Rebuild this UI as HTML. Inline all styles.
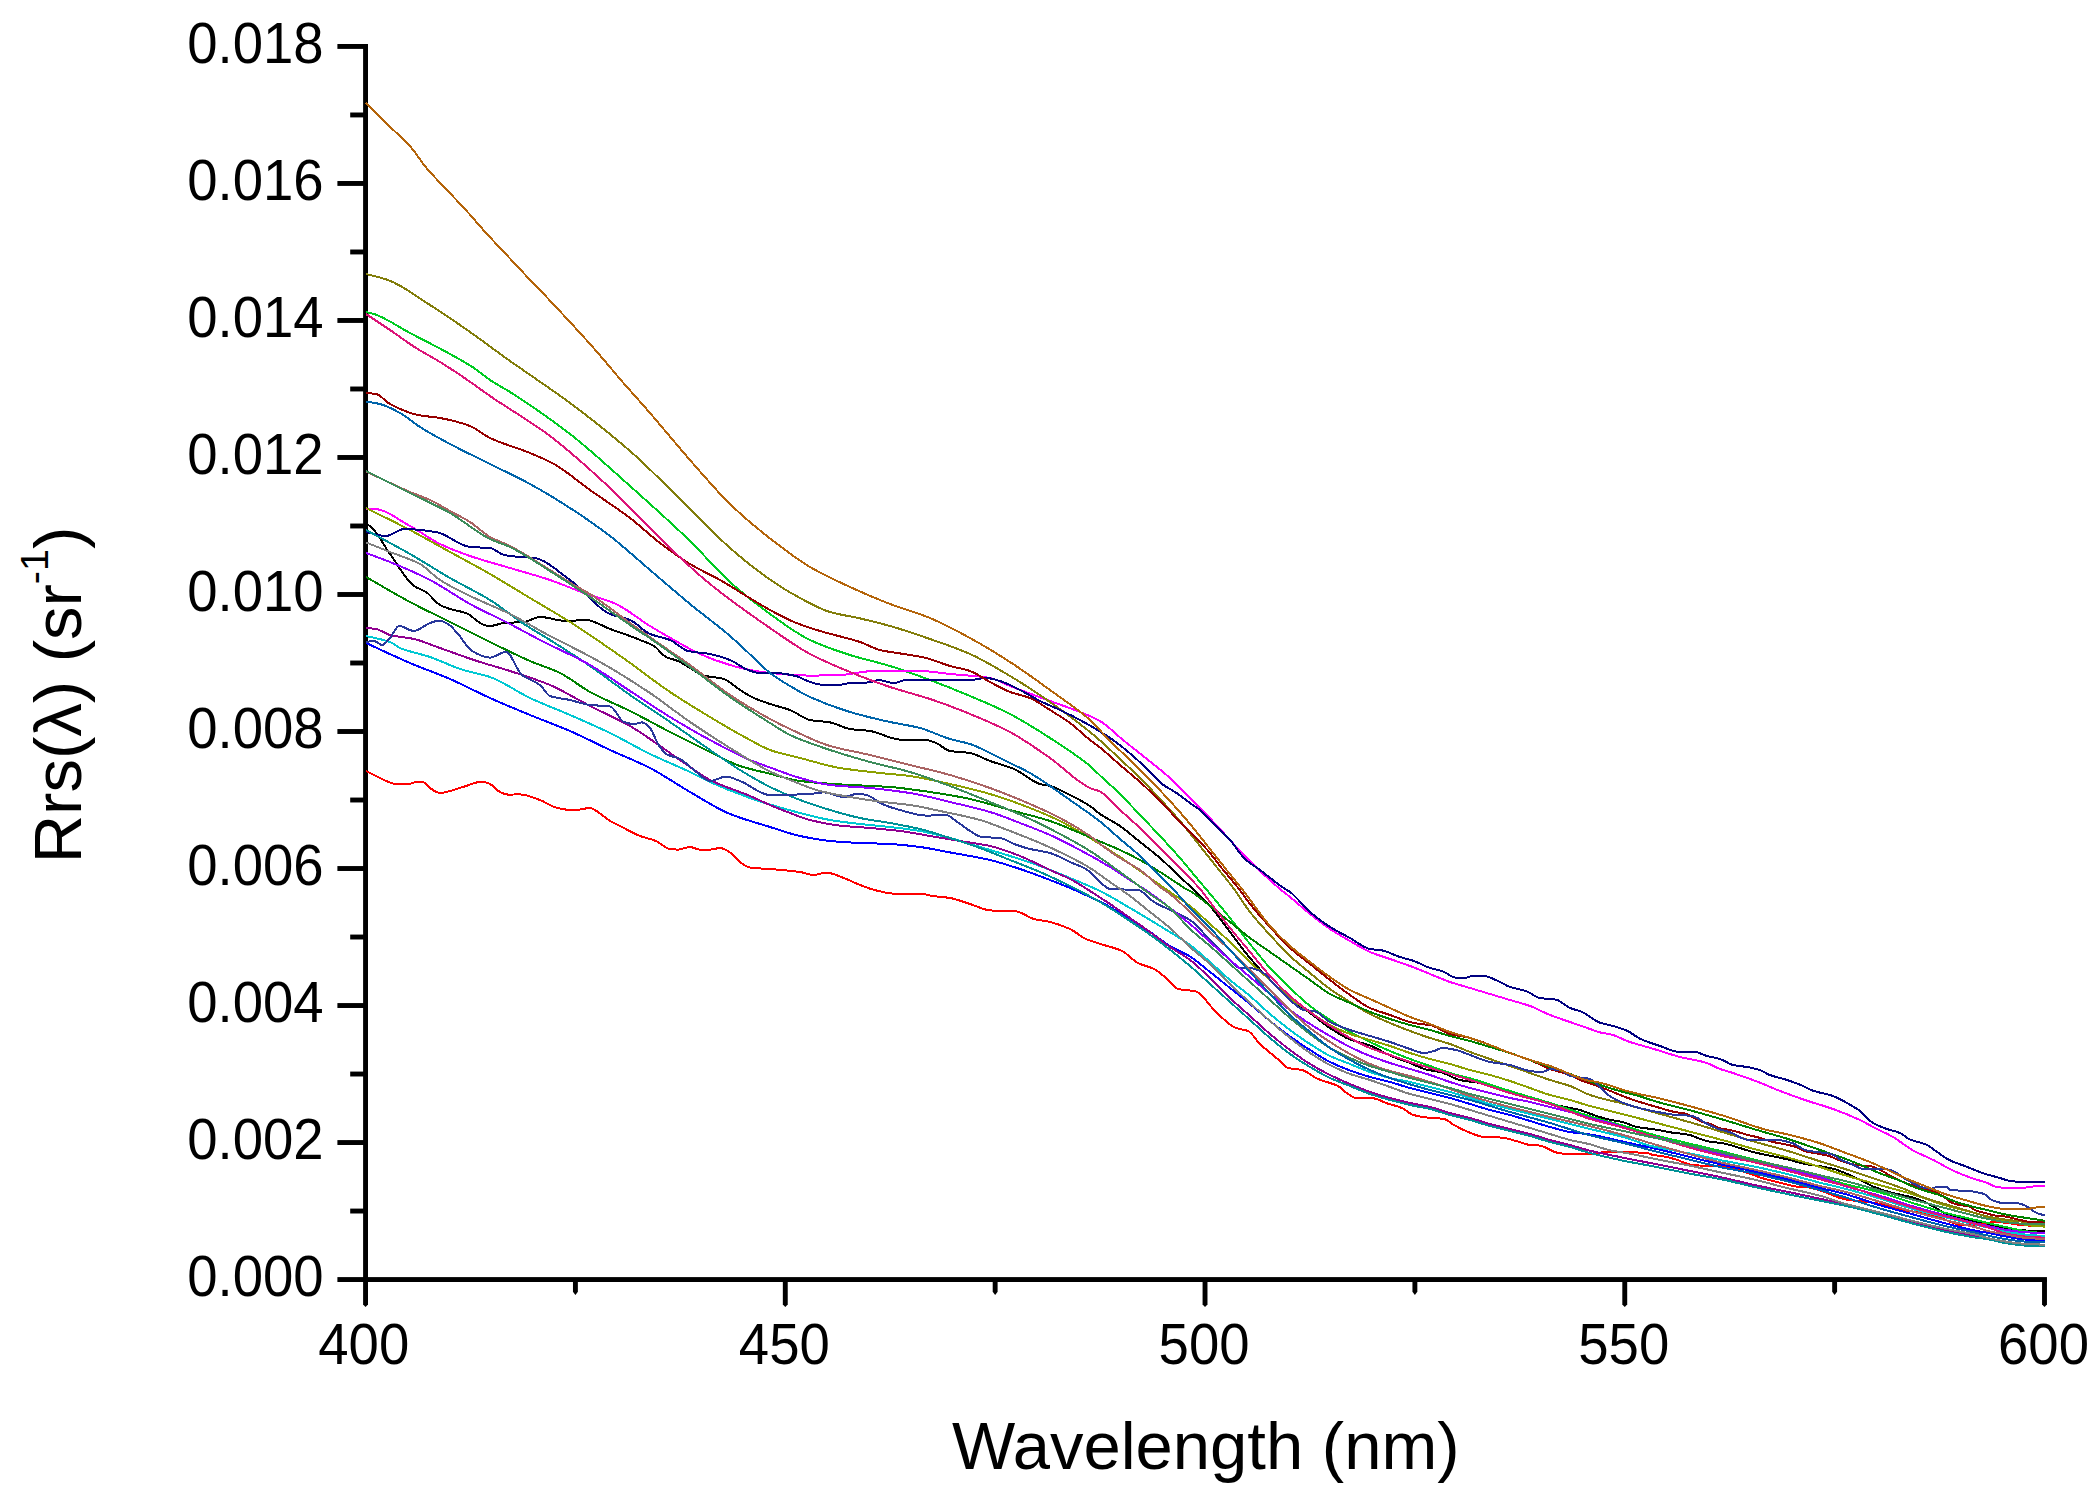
<!DOCTYPE html>
<html lang="en"><head><meta charset="utf-8"><title>Rrs spectra</title>
<style>
html,body{margin:0;padding:0;background:#fff;}
body{width:2100px;height:1500px;overflow:hidden;}
svg{display:block;}
text{font-family:"Liberation Sans",Arial,sans-serif;fill:#000;}
.tk{font-size:54.5px;}
.tt{font-size:67px;}
.ln{fill:none;stroke-width:2;stroke-linejoin:round;stroke-linecap:butt;}
</style></head>
<body>
<svg width="2100" height="1500" viewBox="0 0 2100 1500">
<rect x="0" y="0" width="2100" height="1500" fill="#ffffff"/>
<g fill="#000">
<rect x="363.1" y="44" width="4.9" height="1238"/>
<rect x="363.1" y="1277.1" width="1683.85" height="4.9"/>
<rect x="337.4" y="1277.1" width="28.15" height="4.9"/>
<rect x="350.2" y="1208.59" width="15.35" height="4.9"/>
<rect x="337.4" y="1140.09" width="28.15" height="4.9"/>
<rect x="350.2" y="1071.58" width="15.35" height="4.9"/>
<rect x="337.4" y="1003.08" width="28.15" height="4.9"/>
<rect x="350.2" y="934.572" width="15.35" height="4.9"/>
<rect x="337.4" y="866.067" width="28.15" height="4.9"/>
<rect x="350.2" y="797.561" width="15.35" height="4.9"/>
<rect x="337.4" y="729.056" width="28.15" height="4.9"/>
<rect x="350.2" y="660.55" width="15.35" height="4.9"/>
<rect x="337.4" y="592.044" width="28.15" height="4.9"/>
<rect x="350.2" y="523.539" width="15.35" height="4.9"/>
<rect x="337.4" y="455.033" width="28.15" height="4.9"/>
<rect x="350.2" y="386.528" width="15.35" height="4.9"/>
<rect x="337.4" y="318.022" width="28.15" height="4.9"/>
<rect x="350.2" y="249.517" width="15.35" height="4.9"/>
<rect x="337.4" y="181.011" width="28.15" height="4.9"/>
<rect x="350.2" y="112.506" width="15.35" height="4.9"/>
<rect x="337.4" y="44" width="28.15" height="4.9"/>
<path d="M363.1,1279.55 H368 V1304.6 L365.55,1307 L363.1,1304.6 Z"/>
<path d="M572.969,1279.55 H577.869 V1291.8 L575.419,1295 L572.969,1291.8 Z"/>
<path d="M782.837,1279.55 H787.738 V1304.6 L785.288,1307 L782.837,1304.6 Z"/>
<path d="M992.706,1279.55 H997.606 V1291.8 L995.156,1295 L992.706,1291.8 Z"/>
<path d="M1202.58,1279.55 H1207.48 V1304.6 L1205.03,1307 L1202.58,1304.6 Z"/>
<path d="M1412.44,1279.55 H1417.34 V1291.8 L1414.89,1295 L1412.44,1291.8 Z"/>
<path d="M1622.31,1279.55 H1627.21 V1304.6 L1624.76,1307 L1622.31,1304.6 Z"/>
<path d="M1832.18,1279.55 H1837.08 V1291.8 L1834.63,1295 L1832.18,1291.8 Z"/>
<path d="M2042.05,1279.55 H2046.95 V1304.6 L2044.5,1307 L2042.05,1304.6 Z"/>
</g>
<g class="ln" shape-rendering="crispEdges">
<path d="M366,524C367.3,524.7 368.7,525.1 370,526C376.7,530.4 383.3,544.9 390,554C398,564.9 406,580.5 414,586C418,588.8 422,589.4 426,592C430.7,595 435.3,602.4 440,605C443.3,606.8 446.7,608 450,609C455.3,610.7 460.7,611.1 466,613C472,615.2 478,623.5 484,625C486,625.5 488,626 490,626C494.7,626 499.3,623.4 504,623C510.7,622.4 517.3,622.6 524,622C529.3,621.5 534.7,617 540,617C548.7,617 557.3,621 566,621C572.7,621 579.3,620 586,620C594,620 602,626.1 610,629C616.7,631.4 623.3,633.5 630,636C633.3,637.3 636.7,638.6 640,640C644.7,641.9 649.3,643.2 654,646C658,648.4 662,655 666,657C670,659 674,659.3 678,661C682,662.7 686,665.7 690,668C694.7,670.6 699.3,674.4 704,675.6C710.7,677.4 717.3,677.1 724,679C729.3,680.5 734.7,686.7 740,690C744.7,692.9 749.3,695.9 754,698C759.3,700.4 764.7,702.2 770,704C776.7,706.2 783.3,707.5 790,710C796.7,712.5 803.3,718.7 810,720C816.7,721.3 823.3,721.2 830,722.4C836.7,723.6 843.3,728 850,729C856.7,730 863.3,730 870,731C880,732.4 890,739.3 900,739.6C908.7,739.8 917.3,739.7 926,740C929.3,740.1 932.7,741.7 936,743C940.7,744.8 945.3,750.2 950,751C956.7,752.2 963.3,751.9 970,753C976.7,754.1 983.3,758.6 990,761C998,763.9 1006,765.6 1014,769C1022.7,772.6 1031.3,781.6 1040,784C1043.3,784.9 1046.7,785.1 1050,786C1056.7,787.8 1063.3,791.7 1070,795C1076.7,798.3 1083.3,801.6 1090,806C1093.3,808.2 1096.7,811.7 1100,814C1106.7,818.6 1113.3,821.4 1120,826C1126.7,830.6 1133.3,836.7 1140,842C1146.7,847.3 1153.3,852.2 1160,858C1166.7,863.8 1173.3,870.8 1180,877C1184.3,881.1 1188.7,884.8 1193,889C1198.7,894.4 1204.3,899.6 1210,906C1216.7,913.5 1223.3,923.3 1230,932C1236.7,940.7 1243.3,950.1 1250,958C1256.7,965.9 1263.3,973.4 1270,980C1276.7,986.6 1283.3,992.5 1290,998C1296.7,1003.5 1303.3,1008 1310,1013C1316.7,1018 1323.3,1023.7 1330,1028C1336.7,1032.3 1343.3,1036.9 1350,1039.5C1356.7,1042.1 1363.3,1043 1370,1045.5C1376.7,1048 1383.3,1052.6 1390,1055.5C1396.7,1058.4 1403.3,1060.4 1410,1063C1415.3,1065.1 1420.7,1068.2 1426,1069.5C1430.7,1070.6 1435.3,1070.9 1440,1072C1446.7,1073.6 1453.3,1078.5 1460,1080C1466.7,1081.5 1473.3,1081.8 1480,1083C1486.7,1084.2 1493.3,1086.1 1500,1088C1506.7,1089.9 1513.3,1092.8 1520,1095C1526.7,1097.2 1533.3,1099.2 1540,1101C1546.7,1102.8 1553.3,1104.5 1560,1106C1566.7,1107.5 1573.3,1108.2 1580,1110C1583.3,1110.9 1586.7,1112.6 1590,1113.7C1595.6,1115.6 1601.1,1117.6 1606.7,1119C1612.2,1120.4 1617.8,1120.9 1623.3,1122.3C1627.8,1123.4 1632.2,1126.1 1636.7,1127C1643.4,1128.3 1650,1128.6 1656.7,1129.7C1661.1,1130.4 1665.6,1131.6 1670,1132.3C1676.7,1133.4 1683.3,1133.6 1690,1135C1693.3,1135.7 1696.7,1137.9 1700,1139C1703.3,1140.1 1706.7,1141.1 1710,1141.7C1714.4,1142.5 1718.9,1142.5 1723.3,1143.3C1725.5,1143.7 1727.8,1144.4 1730,1145C1737.7,1147.1 1745.3,1150 1753,1152C1764.3,1154.9 1775.7,1156.7 1787,1159.3C1793.7,1160.9 1800.3,1163.1 1807,1164.3C1812.3,1165.3 1817.7,1165.8 1823,1166.7C1826.3,1167.3 1829.7,1167.9 1833,1168.7C1837,1169.7 1841,1171.4 1845,1173C1850.6,1175.2 1856.1,1178 1861.7,1180.7C1866.1,1182.8 1870.6,1185.6 1875,1187.3C1880.6,1189.5 1886.1,1191.2 1891.7,1192.7C1898.4,1194.5 1905,1195.4 1911.7,1197.3C1915,1198.2 1918.4,1199.4 1921.7,1200.7C1926.1,1202.5 1930.6,1204.9 1935,1207.3C1938.3,1209.1 1941.7,1211.9 1945,1213.3C1949.4,1215.1 1953.9,1216 1958.3,1217.3C1960.5,1218 1962.8,1218.7 1965,1219.3C1972.3,1221.2 1979.7,1222.7 1987,1224.2C1993.7,1225.6 2000.3,1227.3 2007,1228.2C2014.7,1229.3 2022.3,1230.6 2030,1230.7C2034.9,1230.8 2039.8,1230.8 2044.7,1230.8" stroke="#000000"/>
<path d="M366,771C370.7,773.3 375.3,776 380,778C385.3,780.3 390.7,784 396,784C400,784 404,784 408,784C411.3,784 414.7,781.6 418,781.6C420,781.6 422,781.9 424,782.4C426,782.9 428,786.7 430,788C433.3,790.2 436.7,793 440,793C443.3,793 446.7,791.8 450,791C455.3,789.7 460.7,787.6 466,786C471.3,784.4 476.7,781.6 482,781.6C484.7,781.6 487.3,782.9 490,784C493.3,785.4 496.7,790.5 500,792C502.7,793.2 505.3,794.6 508,794.6C512,794.6 516,794.4 520,794.4C526.7,794.4 533.3,797.6 540,800C545.3,801.9 550.7,806.3 556,807.6C562,809 568,810.4 574,810.4C579.3,810.4 584.7,808 590,808C592.7,808 595.3,810.4 598,812C602,814.4 606,818.6 610,821C613.3,823 616.7,824.3 620,826C626.7,829.3 633.3,833.5 640,836C645.3,838 650.7,838.8 656,841C660.7,842.9 665.3,848.4 670,849C672.7,849.3 675.3,849.6 678,849.6C682,849.6 686,847 690,847C693.3,847 696.7,849.6 700,849.6C703.3,849.6 706.7,849.6 710,849.6C713.3,849.6 716.7,848 720,848C722.7,848 725.3,849.6 728,851C732,853.1 736,859.2 740,862C743.3,864.3 746.7,867.1 750,867.6C756.7,868.5 763.3,868.5 770,869C780,869.8 790,870.6 800,872C804.7,872.7 809.3,875 814,875C818,875 822,872.6 826,872.6C832,872.6 838,875.9 844,878C849.3,879.9 854.7,883 860,885C865.3,887 870.7,889.2 876,890.4C882,891.8 888,893.6 894,893.6C903.3,893.6 912.7,893.6 922,893.6C924.7,893.6 927.3,895.1 930,895.6C936.7,896.7 943.3,896.9 950,898C956.7,899.1 963.3,901.9 970,904C976.7,906.1 983.3,909.9 990,910.4C998.7,911 1007.3,910.8 1016,911.4C1022,911.8 1028,917.5 1034,919C1039.3,920.4 1044.7,920.7 1050,922C1056.7,923.6 1063.3,926 1070,929C1075.3,931.4 1080.7,936.7 1086,939C1091.3,941.3 1096.7,942.6 1102,944.4C1108.7,946.6 1115.3,947.9 1122,951C1127.3,953.5 1132.7,960.3 1138,963C1143.3,965.7 1148.7,966.3 1154,969C1158,971 1162,974.7 1166,978C1170,981.3 1174,988.1 1178,989C1182,989.9 1186,989.9 1190,990.5C1192,990.8 1194,991 1196,991.6C1202.7,993.4 1209.3,1006 1216,1012C1222.7,1018 1229.3,1025.6 1236,1028C1240,1029.5 1244,1029.4 1248,1031C1252,1032.6 1256,1040.2 1260,1044C1266.7,1050.4 1273.3,1055.2 1280,1061C1282.7,1063.3 1285.3,1067.3 1288,1068C1292.7,1069.2 1297.3,1069 1302,1070C1307.3,1071.2 1312.7,1076.7 1318,1079C1324.7,1081.9 1331.3,1082.6 1338,1086C1341.3,1087.7 1344.7,1092 1348,1094C1350.7,1095.6 1353.3,1097.9 1356,1098C1362,1098.3 1368,1098.1 1374,1098.4C1378,1098.6 1382,1101.6 1386,1103C1391.3,1104.8 1396.7,1105.7 1402,1108C1405.3,1109.4 1408.7,1113.2 1412,1114.4C1415.3,1115.6 1418.7,1116.5 1422,1117C1429.3,1118.1 1436.7,1117.7 1444,1119C1447.3,1119.6 1450.7,1123.2 1454,1125C1458,1127.2 1462,1129.4 1466,1131C1472,1133.4 1478,1136.6 1484,1137C1490,1137.4 1496,1137.2 1502,1137.6C1507.3,1137.9 1512.7,1140.2 1518,1141.6C1522,1142.7 1526,1144.6 1530,1145C1533.3,1145.3 1536.7,1145.3 1540,1145.6C1545.3,1146.1 1550.7,1151.3 1556,1152.4C1560.7,1153.4 1565.3,1154.4 1570,1154.4C1574,1154.4 1578,1154 1582,1154C1584.7,1154 1587.3,1154.3 1590,1154.3C1591.7,1154.3 1593.3,1153.9 1595,1153.7C1598.9,1153.2 1602.8,1151.7 1606.7,1151.7C1608.1,1151.7 1609.6,1152 1611,1152C1617.3,1152.2 1623.7,1152.2 1630,1152.3C1635.6,1152.4 1641.1,1152.5 1646.7,1153C1648.8,1153.2 1650.9,1154.6 1653,1155C1656.3,1155.6 1659.7,1155.7 1663,1156.3C1667.6,1157.1 1672.1,1158.2 1676.7,1159.7C1678.8,1160.4 1680.9,1161.6 1683,1162.3C1686.3,1163.4 1689.7,1164.7 1693,1165C1698.7,1165.6 1704.3,1165.8 1710,1166C1715,1166.1 1720,1166.1 1725,1166.3C1731.7,1166.5 1738.3,1169.9 1745,1172C1751.3,1174 1757.7,1176.9 1764,1178.7C1769.3,1180.3 1774.7,1181.5 1780,1182.7C1786.7,1184.2 1793.3,1186.6 1800,1187C1802.3,1187.2 1804.7,1187.1 1807,1187.3C1814,1187.8 1821,1191 1828,1193.3C1832,1194.6 1836,1196.8 1840,1198C1842.3,1198.7 1844.7,1199.3 1847,1199.7C1857,1201.4 1867,1201.6 1877,1203.3C1881.9,1204.2 1886.8,1205.9 1891.7,1207.3C1893.9,1207.9 1896.1,1208.8 1898.3,1209.3C1905,1210.7 1911.6,1211 1918.3,1212.3C1925.5,1213.7 1932.8,1216 1940,1218C1947.9,1220.2 1955.8,1225.3 1963.7,1225.3C1970.2,1225.3 1976.8,1224.9 1983.3,1224.3C1986.6,1224 1990,1222 1993.3,1222C1997.2,1222 2001.1,1222.4 2005,1222.7C2008.7,1223 2012.3,1223.8 2016,1224.3C2018.7,1224.7 2021.3,1225.1 2024,1225.3C2030.9,1225.7 2037.8,1225.8 2044.7,1226" stroke="#FF0000"/>
<path d="M366,312C368.7,312.7 371.3,313.2 374,314C386,317.8 398,326.7 410,333C423.3,340 436.7,346.6 450,354C458,358.4 466,362.7 474,368C479.3,371.5 484.7,376.4 490,380C496.7,384.5 503.3,387.7 510,392C530,404.8 550,418.5 570,434C590,449.5 610,468.2 630,486C650,503.8 670,521.6 690,541C703.3,554 716.7,570 730,582C743.3,594 756.7,604.4 770,614C783.3,623.6 796.7,633.7 810,640C823.3,646.3 836.7,650.8 850,655C863.3,659.2 876.7,661.9 890,666C903.3,670.1 916.7,675 930,680C943.3,685 956.7,690.4 970,696C983.3,701.6 996.7,707.1 1010,714C1023.3,720.9 1036.7,729.4 1050,738C1063.3,746.6 1076.7,754.9 1090,766C1093.3,768.8 1096.7,772.4 1100,775.5C1106.7,781.8 1113.3,787.4 1120,794C1126.7,800.6 1133.3,808 1140,815C1146.7,822 1153.3,828.8 1160,836C1166.7,843.2 1173.3,850.3 1180,858C1186.7,865.7 1193.3,874.1 1200,882C1202,884.4 1204,886.6 1206,889C1214,898.5 1222,908 1230,918C1236.7,926.4 1243.3,935.7 1250,944C1256.7,952.3 1263.3,960.7 1270,968C1276.7,975.3 1283.3,981.7 1290,988C1296.7,994.3 1303.3,1000.8 1310,1006C1316.7,1011.2 1323.3,1015.7 1330,1020C1336.7,1024.3 1343.3,1028.4 1350,1032C1356.7,1035.6 1363.3,1038.8 1370,1042C1376.7,1045.2 1383.3,1048.2 1390,1051C1396.7,1053.8 1403.3,1056.5 1410,1059C1416.7,1061.5 1423.3,1063.7 1430,1066C1436.7,1068.3 1443.3,1071 1450,1073C1458.7,1075.7 1467.3,1077.5 1476,1080C1487.3,1083.3 1498.7,1087.5 1510,1091C1523.3,1095.2 1536.7,1098.8 1550,1103C1563.3,1107.2 1576.7,1112.2 1590,1116.3C1601.1,1119.7 1612.2,1122.5 1623.3,1125.7C1634.4,1128.9 1645.6,1132.7 1656.7,1135.7C1667.8,1138.7 1678.9,1141 1690,1143.7C1701.1,1146.4 1712.2,1148.9 1723.3,1151.7C1733.2,1154.2 1743.1,1156.8 1753,1159.3C1764.3,1162.2 1775.7,1165.1 1787,1168C1798,1170.9 1809,1173.6 1820,1176.7C1828.3,1179 1836.7,1181.8 1845,1184C1856.1,1186.9 1867.2,1189 1878.3,1192C1889.4,1195.1 1900.6,1199.2 1911.7,1202.7C1922.8,1206.1 1933.9,1209.7 1945,1212.7C1956.1,1215.7 1967.2,1218 1978.3,1220.7C1981.1,1221.4 1983.9,1222 1986.7,1222.7C1993.4,1224.3 2000,1225.9 2006.7,1227.3C2013.4,1228.7 2020,1230.4 2026.7,1231.3C2032.7,1232.2 2038.7,1232.6 2044.7,1233.3" stroke="#00CC22"/>
<path d="M366,643C380.7,649.7 395.3,656.8 410,663C423.3,668.7 436.7,673.2 450,679C463.3,684.8 476.7,692 490,698C503.3,704 516.7,709.5 530,715C543.3,720.5 556.7,725.2 570,731C583.3,736.8 596.7,743.8 610,750C623.3,756.2 636.7,761.1 650,768C663.3,774.9 676.7,784.3 690,792C703.3,799.7 716.7,808.6 730,814C743.3,819.4 756.7,822.8 770,827C780,830.1 790,833.9 800,836C810,838.1 820,840 830,841C840,842 850,842.6 860,843C870,843.4 880,843.5 890,844C900,844.5 910,845.7 920,847C930,848.3 940,850.6 950,852.4C963.3,854.9 976.7,856.9 990,860C1000,862.4 1010,865.7 1020,869C1030,872.3 1040,876.2 1050,880C1056.7,882.6 1063.3,885.2 1070,888C1076.7,890.8 1083.3,893.8 1090,897C1096.7,900.2 1103.3,903.2 1110,907C1116.7,910.8 1123.3,915.8 1130,920C1136.7,924.2 1143.3,927.7 1150,932C1156.7,936.3 1163.3,942 1170,946C1176.7,950 1183.3,952.3 1190,956.5C1196.7,960.7 1203.3,966.8 1210,972C1216.7,977.2 1223.3,982.7 1230,988C1236.7,993.3 1243.3,998.5 1250,1004C1256.7,1009.5 1263.3,1015.6 1270,1021C1276.7,1026.4 1283.3,1031.7 1290,1036.5C1296.7,1041.3 1303.3,1045.8 1310,1050C1316.7,1054.2 1323.3,1058.7 1330,1062C1336.7,1065.3 1343.3,1068 1350,1070.5C1356.7,1073 1363.3,1075.1 1370,1077C1376.7,1078.9 1383.3,1080.2 1390,1082C1396.7,1083.8 1403.3,1086.2 1410,1088C1416.7,1089.8 1423.3,1091.3 1430,1093C1436.7,1094.7 1443.3,1096.2 1450,1098C1456.7,1099.8 1463.3,1102 1470,1104C1476.7,1106 1483.3,1108.2 1490,1110C1496.7,1111.8 1503.3,1113.2 1510,1115C1516.7,1116.8 1523.3,1119 1530,1121C1536.7,1123 1543.3,1125.2 1550,1127C1556.7,1128.8 1563.3,1130.9 1570,1132C1576.7,1133.1 1583.3,1133.5 1590,1134.5C1601.1,1136.2 1612.2,1139.3 1623.3,1141.7C1634.4,1144.1 1645.6,1146.5 1656.7,1149C1667.8,1151.5 1678.9,1154.3 1690,1157C1701.1,1159.7 1712.2,1162.5 1723.3,1165C1733.2,1167.2 1743.1,1169.1 1753,1171.3C1764.3,1173.8 1775.7,1176.5 1787,1179.3C1798,1182 1809,1185.2 1820,1188C1828.3,1190.1 1836.7,1191.7 1845,1194C1856.1,1197 1867.2,1201.4 1878.3,1204.7C1889.4,1208 1900.6,1210.9 1911.7,1214C1922.8,1217.1 1933.9,1220.4 1945,1223.3C1956.1,1226.2 1967.2,1229.2 1978.3,1231.3C1981.1,1231.8 1983.9,1232.2 1986.7,1232.7C1993.4,1233.9 2000,1235.6 2006.7,1236.7C2013.4,1237.8 2020,1239.2 2026.7,1239.7C2032.7,1240.2 2038.7,1240.4 2044.7,1240.7" stroke="#0000FF"/>
<path d="M366,636C374,638 382,639 390,642C393.3,643.2 396.7,646.6 400,648C410,652.2 420,653.6 430,657C440.7,660.6 451.3,666.2 462,669.6C471.3,672.5 480.7,673.8 490,677C503.3,681.6 516.7,691.7 530,698C543.3,704.3 556.7,709.2 570,715C583.3,720.8 596.7,726.5 610,733C623.3,739.5 636.7,747.5 650,754C663.3,760.5 676.7,765.6 690,772C696.7,775.2 703.3,779 710,782C723.3,788 736.7,793.3 750,798C756.7,800.4 763.3,802.5 770,804.5C780,807.5 790,810.4 800,813C810,815.6 820,818.3 830,820C840,821.7 850,822.9 860,824C870,825.1 880,825.9 890,827C900,828.1 910,829.3 920,831C930,832.7 940,835.4 950,838C960,840.6 970,844 980,847C990,850 1000,852.8 1010,856C1020,859.2 1030,862.4 1040,866C1050,869.6 1060,873.8 1070,878C1080,882.2 1090,886.1 1100,891C1110,895.9 1120,902.2 1130,908C1140,913.8 1150,919.8 1160,926C1170,932.2 1180,937.7 1190,945C1196.7,949.9 1203.3,956.2 1210,962C1216.7,967.8 1223.3,974.4 1230,980C1236.7,985.6 1243.3,990.4 1250,996C1256.7,1001.6 1263.3,1008.4 1270,1014C1276.7,1019.6 1283.3,1025 1290,1030C1296.7,1035 1303.3,1039.7 1310,1044C1316.7,1048.3 1323.3,1052.8 1330,1056C1336.7,1059.2 1343.3,1061.3 1350,1064C1356.7,1066.7 1363.3,1069.7 1370,1072C1376.7,1074.3 1383.3,1076.4 1390,1078C1396.7,1079.6 1403.3,1080.5 1410,1082C1416.7,1083.5 1423.3,1085.3 1430,1087C1436.7,1088.7 1443.3,1090.2 1450,1092C1456.7,1093.8 1463.3,1096 1470,1098C1476.7,1100 1483.3,1102.2 1490,1104C1496.7,1105.8 1503.3,1107.3 1510,1109C1516.7,1110.7 1523.3,1112.3 1530,1114C1536.7,1115.7 1543.3,1117.3 1550,1119C1556.7,1120.7 1563.3,1122.3 1570,1124C1576.7,1125.7 1583.3,1127.4 1590,1129C1601.1,1131.7 1612.2,1133.9 1623.3,1137C1632.2,1139.5 1641.1,1143.5 1650,1145.7C1658.9,1147.9 1667.8,1149.2 1676.7,1151C1685.6,1152.8 1694.4,1154.4 1703.3,1156.3C1710,1157.7 1716.6,1159.3 1723.3,1160.7C1733.2,1162.7 1743.1,1164.3 1753,1166.3C1764.3,1168.6 1775.7,1171.2 1787,1174C1798,1176.7 1809,1179.9 1820,1182.7C1828.3,1184.8 1836.7,1186.6 1845,1188.7C1856.1,1191.6 1867.2,1194.7 1878.3,1198C1889.4,1201.3 1900.6,1205.5 1911.7,1208.7C1922.8,1211.9 1933.9,1214.5 1945,1217.3C1956.1,1220.1 1967.2,1222.6 1978.3,1225.3C1981.1,1226 1983.9,1226.7 1986.7,1227.3C1993.4,1228.8 2000,1230.5 2006.7,1231.7C2013.4,1232.9 2020,1234.1 2026.7,1234.7C2032.7,1235.3 2038.7,1235.6 2044.7,1236" stroke="#00C8D2"/>
<path d="M366,509C368.7,509 371.3,509 374,509C386,509 398,519.6 410,526C420,531.3 430,539.2 440,544C450,548.8 460,552.5 470,556C483.3,560.6 496.7,564 510,568C523.3,572 536.7,575.5 550,580C561.3,583.8 572.7,588.9 584,593C594.7,596.9 605.3,599.2 616,604C627.3,609.1 638.7,619.1 650,626C658,630.9 666,635.5 674,640C682.7,644.9 691.3,650.2 700,654C710,658.4 720,662.1 730,665C736.7,667 743.3,668.8 750,670C756.7,671.2 763.3,672.4 770,673C783.3,674.3 796.7,675.6 810,675.6C820,675.6 830,675.3 840,675C851.3,674.6 862.7,671 874,671C889.3,671 904.7,671 920,671C930,671 940,673 950,674C963.3,675.3 976.7,675.7 990,678C996.7,679.1 1003.3,683.4 1010,686C1023.3,691.2 1036.7,696.1 1050,701C1060,704.7 1070,707.9 1080,712C1086.7,714.7 1093.3,717.1 1100,721C1107.7,725.4 1115.3,733.8 1123,740C1132,747.3 1141,754.2 1150,761.5C1156.7,766.9 1163.3,772 1170,778C1176.7,784 1183.3,791.3 1190,798C1195,803 1200,807.8 1205,813C1210,818.2 1215,823.6 1220,829C1226.7,836.2 1233.3,844 1240,851C1246.7,858 1253.3,864.7 1260,871C1266.7,877.3 1273.3,883.4 1280,889C1283.3,891.8 1286.7,894.3 1290,897C1296.7,902.5 1303.3,908.7 1310,914C1316.7,919.3 1323.3,924.6 1330,929C1336.7,933.4 1343.3,937.2 1350,941C1356.7,944.8 1363.3,949.1 1370,952C1376.7,954.9 1383.3,956.7 1390,959C1396.7,961.3 1403.3,963.5 1410,966C1416.7,968.5 1423.3,971.3 1430,974C1436.7,976.7 1443.3,979.7 1450,982C1456.7,984.3 1463.3,986 1470,988C1476.7,990 1483.3,992 1490,994C1496.7,996 1503.3,998 1510,1000C1516.7,1002 1523.3,1003.6 1530,1006C1536.7,1008.4 1543.3,1012.4 1550,1015C1556.7,1017.6 1563.3,1019.7 1570,1022C1576.7,1024.3 1583.3,1026.7 1590,1029C1593.3,1030.1 1596.7,1031.6 1600,1032.4C1604.3,1033.5 1608.7,1033.8 1613,1035C1617.7,1036.3 1622.3,1039.3 1627,1041C1635.7,1044.1 1644.3,1046.1 1653,1048.7C1662,1051.4 1671,1054.7 1680,1057C1689,1059.3 1698,1060.2 1707,1063C1711.3,1064.4 1715.7,1067.4 1720,1069C1724.3,1070.6 1728.7,1071.6 1733,1073C1742,1076 1751,1079.2 1760,1082.7C1766.7,1085.3 1773.3,1088.4 1780,1091C1789,1094.5 1798,1097.7 1807,1100.7C1815.7,1103.6 1824.3,1105.9 1833,1109C1842,1112.2 1851,1115.8 1860,1120C1864.3,1122 1868.7,1124.7 1873,1127C1879.7,1130.5 1886.3,1133.2 1893,1137C1899.4,1140.7 1905.9,1146.4 1912.3,1150C1919.3,1153.9 1926.3,1156.5 1933.3,1160C1940,1163.4 1946.6,1167.6 1953.3,1170.7C1960,1173.8 1966.6,1176.4 1973.3,1178.7C1977.8,1180.2 1982.2,1181.1 1986.7,1182.7C1990,1183.9 1993.4,1186.5 1996.7,1187C2000,1187.5 2003.4,1188 2006.7,1188C2012.2,1188 2017.8,1188 2023.3,1188C2025.5,1188 2027.8,1186.9 2030,1186.7C2034.9,1186.3 2039.8,1186.2 2044.7,1185.9" stroke="#FF00FF"/>
<path d="M366,508C380.7,515.3 395.3,522.3 410,530C423.3,537 436.7,544.7 450,552C463.3,559.3 476.7,566.3 490,574C503.3,581.7 516.7,590 530,598C543.3,606 556.7,613.5 570,622C588.7,633.8 607.3,646.9 626,660C640.7,670.3 655.3,682.2 670,692C683.3,701 696.7,709 710,717C723.3,725 736.7,732.9 750,740C756.7,743.5 763.3,747.6 770,750C780,753.6 790,755.4 800,758C813.3,761.4 826.7,765.8 840,768C853.3,770.2 866.7,771.5 880,773C890,774.1 900,774.7 910,776C923.3,777.8 936.7,781 950,784C963.3,787 976.7,790.1 990,794C1003.3,797.9 1016.7,802.8 1030,808C1040,811.9 1050,816.1 1060,821C1070,825.9 1080,832 1090,838C1100,844 1110,850.4 1120,857C1130,863.6 1140,871 1150,878C1156.7,882.7 1163.3,887.3 1170,892C1176.7,896.7 1183.3,900.8 1190,906C1196.7,911.2 1203.3,918 1210,924C1216.7,930 1223.3,935.7 1230,942C1236.7,948.3 1243.3,955.7 1250,962C1256.7,968.3 1263.3,974 1270,980C1276.7,986 1283.3,992.8 1290,998C1296.7,1003.2 1303.3,1007.5 1310,1012C1316.7,1016.5 1323.3,1021.5 1330,1025C1336.7,1028.5 1343.3,1031.6 1350,1034C1356.7,1036.4 1363.3,1038 1370,1040C1376.7,1042 1383.3,1043.8 1390,1046C1396.7,1048.2 1403.3,1050.8 1410,1053C1416.7,1055.2 1423.3,1057.2 1430,1059C1436.7,1060.8 1443.3,1062.2 1450,1064C1456.7,1065.8 1463.3,1068.2 1470,1070C1476.7,1071.8 1483.3,1073.2 1490,1075C1496.7,1076.8 1503.3,1078.8 1510,1081C1516.7,1083.2 1523.3,1085.7 1530,1088C1536.7,1090.3 1543.3,1093.1 1550,1095C1556.7,1096.9 1563.3,1098.2 1570,1100C1576.7,1101.8 1583.3,1104.2 1590,1106C1601.1,1109 1612.2,1111.5 1623.3,1114.3C1634.4,1117.1 1645.6,1120.1 1656.7,1123C1667.8,1125.9 1678.9,1128.8 1690,1131.7C1701.1,1134.6 1712.2,1137.3 1723.3,1140.3C1733.2,1143 1743.1,1146.1 1753,1148.7C1764.3,1151.7 1775.7,1154.2 1787,1157.3C1798,1160.3 1809,1163.6 1820,1167C1828.3,1169.6 1836.7,1172.7 1845,1175.3C1856.1,1178.7 1867.2,1181.6 1878.3,1184.7C1889.4,1187.8 1900.6,1190.6 1911.7,1194C1922.8,1197.4 1933.9,1202 1945,1205.3C1956.1,1208.6 1967.2,1210.7 1978.3,1214C1981.1,1214.8 1983.9,1216 1986.7,1216.7C1993.4,1218.4 2000,1219.3 2006.7,1220.7C2013.4,1222.1 2020,1224.1 2026.7,1225C2032.7,1225.8 2038.7,1226.1 2044.7,1226.7" stroke="#8CA000"/>
<path d="M366,274C373.3,276 380.7,277.4 388,280C402,285 416,296.1 430,305C443.3,313.4 456.7,322.7 470,332C483.3,341.3 496.7,351.6 510,361C518.7,367.1 527.3,372.9 536,379C547.3,386.9 558.7,394.5 570,403C590,417.9 610,433.5 630,451C650,468.5 670,489.6 690,509C703.3,521.9 716.7,536.4 730,548C743.3,559.6 756.7,570.4 770,579.6C780,586.5 790,592.7 800,598C810,603.3 820,609.1 830,612C840,614.9 850,616.1 860,618.4C870,620.7 880,623.2 890,626C903.3,629.8 916.7,634.4 930,639C943.3,643.6 956.7,648.1 970,654C983.3,659.9 996.7,668.1 1010,676C1023.3,683.9 1036.7,692.7 1050,702C1063.3,711.3 1076.7,721.2 1090,732C1093.3,734.7 1096.7,737.6 1100,740.5C1106.7,746.4 1113.3,752.8 1120,759C1126.7,765.2 1133.3,771.4 1140,778C1146.7,784.6 1153.3,791.8 1160,799C1166.7,806.2 1173.3,813.2 1180,821C1186.7,828.8 1193.3,837.6 1200,846C1205,852.3 1210,858.7 1215,865C1221.3,873 1227.7,880.5 1234,889C1239.3,896.2 1244.7,905.2 1250,912C1256.7,920.6 1263.3,927.7 1270,935C1276.7,942.3 1283.3,949.7 1290,956C1296.7,962.3 1303.3,967.5 1310,973C1316.7,978.5 1323.3,984.2 1330,989C1336.7,993.8 1343.3,997.8 1350,1002C1356.7,1006.2 1363.3,1010.6 1370,1014C1376.7,1017.4 1383.3,1020.2 1390,1023C1396.7,1025.8 1403.3,1028.5 1410,1031C1416.7,1033.5 1423.3,1035.8 1430,1038C1436.7,1040.2 1443.3,1041.7 1450,1044C1456.7,1046.3 1463.3,1049.5 1470,1052C1476.7,1054.5 1483.3,1056.7 1490,1059C1496.7,1061.3 1503.3,1063.7 1510,1066C1516.7,1068.3 1523.3,1070.7 1530,1073C1536.7,1075.3 1543.3,1077.8 1550,1080C1556.7,1082.2 1563.3,1083.6 1570,1086C1576.7,1088.4 1583.3,1092.7 1590,1095C1601.1,1098.8 1612.2,1100.7 1623.3,1103.7C1634.4,1106.7 1645.6,1109.9 1656.7,1113C1667.8,1116.1 1678.9,1119.1 1690,1122.3C1701.1,1125.5 1712.2,1129 1723.3,1132.3C1733.2,1135.3 1743.1,1138.4 1753,1141.3C1764.3,1144.6 1775.7,1147.3 1787,1150.7C1798,1154 1809,1157.8 1820,1161.3C1828.3,1163.9 1836.7,1166.3 1845,1169C1856.1,1172.5 1867.2,1176.2 1878.3,1180C1887.2,1183 1896.1,1185.8 1905,1189.3C1911.7,1191.9 1918.3,1195.6 1925,1198C1931.7,1200.4 1938.3,1202 1945,1204C1951.7,1206 1958.3,1208 1965,1210C1972.2,1212.1 1979.5,1214.8 1986.7,1216.3C1993.4,1217.7 2000,1218.8 2006.7,1219.7C2011.1,1220.3 2015.6,1220.7 2020,1221.3C2028.2,1222.4 2036.5,1223.8 2044.7,1225" stroke="#827D0A"/>
<path d="M366,532C372.7,533.3 379.3,536 386,536C392,536 398,529 404,529C414.7,529 425.3,530.4 436,532C447.3,533.7 458.7,546 470,547C476.7,547.6 483.3,547.4 490,548C494.7,548.4 499.3,554.1 504,555C509.3,556.1 514.7,556.5 520,557C524.7,557.4 529.3,557.5 534,558C546,559.4 558,571.5 570,580C583.3,589.5 596.7,608.4 610,614C616.7,616.8 623.3,617.2 630,620C636.7,622.8 643.3,631.2 650,634C656.7,636.8 663.3,637.3 670,640C676,642.4 682,649.6 688,651C695.3,652.7 702.7,652.6 710,654C716.7,655.3 723.3,657.4 730,660C736,662.3 742,668 748,670C752,671.3 756,673 760,673C763.3,673 766.7,672.5 770,672.5C778.7,672.5 787.3,674.1 796,676C800.7,677 805.3,680.7 810,682C814.7,683.3 819.3,685 824,685C828.7,685 833.3,685 838,685C842,685 846,683.2 850,683C856.7,682.6 863.3,682.8 870,682.4C872.7,682.2 875.3,680 878,680C883.3,680 888.7,683 894,683C898,683 902,680 906,680C914,680 922,680 930,680C943.3,680 956.7,680 970,680C975.3,680 980.7,678 986,678C990.7,678 995.3,679.7 1000,681C1006.7,682.9 1013.3,686.7 1020,690C1026.7,693.3 1033.3,697.7 1040,701C1046.7,704.3 1053.3,706.8 1060,710C1066.7,713.2 1073.3,716.4 1080,720C1091,726 1102,732.3 1113,740C1119.7,744.7 1126.3,750.2 1133,756C1138.7,760.9 1144.3,766.5 1150,772C1154,775.9 1158,780.9 1162,784C1166.3,787.3 1170.7,789.1 1175,792C1180,795.3 1185,799.4 1190,803C1193.3,805.4 1196.7,807.3 1200,810C1204.3,813.5 1208.7,818.7 1213,823C1218.7,828.7 1224.3,833.7 1230,840C1235,845.6 1240,854.4 1245,859C1250,863.6 1255,866.3 1260,870C1268.3,876.2 1276.7,883.6 1285,889C1286.7,890.1 1288.3,890.8 1290,892C1296.7,896.8 1303.3,906.3 1310,912C1316.7,917.7 1323.3,922.8 1330,927C1336.7,931.2 1343.3,934.3 1350,938C1356.7,941.7 1363.3,947.8 1370,949C1374,949.7 1378,949.7 1382,950.4C1388,951.4 1394,955.1 1400,957C1404.7,958.5 1409.3,959.4 1414,961C1419.3,962.8 1424.7,966.3 1430,968C1434,969.3 1438,969.7 1442,971C1446.7,972.5 1451.3,977.6 1456,977.6C1459.3,977.6 1462.7,977.6 1466,977.6C1468.7,977.6 1471.3,975.6 1474,975.6C1477.3,975.6 1480.7,975.8 1484,976C1488.7,976.3 1493.3,979 1498,981C1502,982.7 1506,985.6 1510,987C1515.3,988.8 1520.7,989.2 1526,991C1530.7,992.6 1535.3,997.2 1540,998C1545.3,998.9 1550.7,998.7 1556,999.6C1560.7,1000.4 1565.3,1006 1570,1008C1574,1009.7 1578,1010.3 1582,1012C1588,1014.5 1594,1020.6 1600,1022.7C1604.3,1024.2 1608.7,1024.7 1613,1026C1617.7,1027.3 1622.3,1028.7 1627,1030.7C1631.3,1032.6 1635.7,1036.7 1640,1038.7C1646.7,1041.8 1653.3,1043.8 1660,1046C1666.7,1048.2 1673.3,1052 1680,1052C1685,1052 1690,1052 1695,1052C1699,1052 1703,1054.9 1707,1056C1711.3,1057.2 1715.7,1057.7 1720,1059C1724.3,1060.3 1728.7,1064 1733,1065C1737.7,1066 1742.3,1066.2 1747,1067C1751.3,1067.8 1755.7,1068.6 1760,1070C1763,1071 1766,1073.5 1769,1074.7C1775,1077 1781,1078 1787,1080C1791.3,1081.4 1795.7,1082.9 1800,1084.7C1804.3,1086.5 1808.7,1089.2 1813,1090.7C1819.7,1093 1826.3,1093.6 1833,1096C1837.7,1097.6 1842.3,1100.4 1847,1103C1851.3,1105.4 1855.7,1107.8 1860,1111C1864.3,1114.2 1868.7,1120.5 1873,1123C1877.7,1125.7 1882.3,1127.3 1887,1129C1891.3,1130.5 1895.7,1131.1 1900,1133C1903,1134.3 1906,1137.6 1909,1139C1915,1141.8 1921,1142.2 1927,1145C1929.4,1146.1 1931.9,1148.4 1934.3,1150C1939.3,1153.4 1944.3,1157.5 1949.3,1160C1955.1,1162.9 1960.9,1164.4 1966.7,1166.7C1972.2,1168.9 1977.8,1171.5 1983.3,1173.3C1988.9,1175.1 1994.4,1176.4 2000,1178C2003.3,1179 2006.7,1180.6 2010,1181C2013.3,1181.4 2016.7,1181.7 2020,1181.7C2028.2,1181.7 2036.5,1181.7 2044.7,1181.7" stroke="#000080"/>
<path d="M366,628C369.3,628.3 372.7,628.5 376,629C380.7,629.7 385.3,633.8 390,635C398,637 406,637.2 414,639C422.7,640.9 431.3,645 440,648C451.3,652 462.7,656.3 474,660C479.3,661.8 484.7,663.4 490,665C496.7,667 503.3,668.9 510,671C523.3,675.3 536.7,679.4 550,685C563.3,690.6 576.7,699.2 590,706C603.3,712.8 616.7,718.4 630,726C636.7,729.8 643.3,734.5 650,739C663.3,748 676.7,758 690,767C696.7,771.5 703.3,776.6 710,780C723.3,786.8 736.7,790.3 750,796C756.7,798.8 763.3,802.2 770,805C776.7,807.8 783.3,810.5 790,813C796.7,815.5 803.3,818.3 810,820C820,822.5 830,824.5 840,825.6C850,826.7 860,827.1 870,828C880,828.9 890,829.8 900,831C910,832.2 920,834.3 930,836C940,837.7 950,839.3 960,841C970,842.7 980,843.8 990,846C1000,848.2 1010,852.1 1020,856C1030,859.9 1040,865.4 1050,870C1056.7,873.1 1063.3,875.6 1070,879C1076.7,882.4 1083.3,886.8 1090,891C1096.7,895.2 1103.3,899.5 1110,904C1116.7,908.5 1123.3,913.3 1130,918C1136.7,922.7 1143.3,927.2 1150,932C1156.7,936.8 1163.3,942.4 1170,947C1176.7,951.6 1183.3,955 1190,960C1196.7,965 1203.3,971.7 1210,978C1216.7,984.3 1223.3,991.7 1230,998C1236.7,1004.3 1243.3,1010 1250,1016C1256.7,1022 1263.3,1028.4 1270,1034C1276.7,1039.6 1283.3,1045 1290,1050C1296.7,1055 1303.3,1059.9 1310,1064C1316.7,1068.1 1323.3,1071.7 1330,1075C1336.7,1078.3 1343.3,1081.2 1350,1084C1356.7,1086.8 1363.3,1089.7 1370,1092C1376.7,1094.3 1383.3,1096.2 1390,1098C1396.7,1099.8 1403.3,1101.5 1410,1103C1416.7,1104.5 1423.3,1105.4 1430,1107C1436.7,1108.6 1443.3,1111.2 1450,1113C1456.7,1114.8 1463.3,1116.2 1470,1118C1476.7,1119.8 1483.3,1122.2 1490,1124C1496.7,1125.8 1503.3,1127.3 1510,1129C1516.7,1130.7 1523.3,1132.2 1530,1134C1536.7,1135.8 1543.3,1138.2 1550,1140C1556.7,1141.8 1563.3,1143.2 1570,1145C1576.7,1146.8 1583.3,1149.1 1590,1150.7C1601.1,1153.4 1612.2,1155.4 1623.3,1157.7C1634.4,1160 1645.6,1162.1 1656.7,1164.3C1667.8,1166.5 1678.9,1168.8 1690,1171C1701.1,1173.2 1712.2,1175.3 1723.3,1177.7C1733.2,1179.9 1743.1,1182.5 1753,1184.7C1764.3,1187.2 1775.7,1189.3 1787,1191.7C1798,1194 1809,1196.3 1820,1198.7C1828.3,1200.6 1836.7,1202.5 1845,1204.5C1856.1,1207.2 1867.2,1210.1 1878.3,1213C1889.4,1215.9 1900.6,1219.1 1911.7,1222C1922.8,1224.9 1933.9,1227.8 1945,1230.2C1956.1,1232.6 1967.2,1234.6 1978.3,1236.7C1981.1,1237.2 1983.9,1237.7 1986.7,1238.3C1993.4,1239.6 2000,1241.5 2006.7,1242.5C2013.4,1243.5 2020,1244.5 2026.7,1244.8C2032.7,1245.1 2038.7,1245.2 2044.7,1245.4" stroke="#900090"/>
<path d="M366,393C369.3,393.3 372.7,393.4 376,394C380.7,394.8 385.3,401.6 390,404C399.3,408.9 408.7,413.1 418,415C425.3,416.5 432.7,416.7 440,418C450,419.8 460,422.2 470,426C476.7,428.5 483.3,434.8 490,438C503.3,444.3 516.7,447.5 530,453C538,456.3 546,459.6 554,464C566,470.6 578,481.5 590,490C603.3,499.5 616.7,507.8 630,518C640,525.6 650,535.4 660,543C670,550.6 680,557.9 690,564C700,570.1 710,574.4 720,580C736.7,589.4 753.3,601 770,610C778,614.3 786,618.7 794,622C802.7,625.6 811.3,628.3 820,631C833.3,635.1 846.7,637.6 860,642C866.7,644.2 873.3,648.4 880,650C890,652.4 900,653.2 910,655C915.3,655.9 920.7,656.7 926,658C934,659.9 942,663.7 950,666C956.7,667.9 963.3,668.7 970,671C976.7,673.3 983.3,678.5 990,682C996.7,685.5 1003.3,689.5 1010,692C1016.7,694.5 1023.3,695.3 1030,698C1036.7,700.7 1043.3,705.8 1050,710C1056.7,714.2 1063.3,718.1 1070,723C1076.7,727.9 1083.3,734.7 1090,740C1093.3,742.6 1096.7,744.8 1100,747.5C1106.7,752.8 1113.3,759.3 1120,765C1126.7,770.7 1133.3,776 1140,782C1146.7,788 1153.3,794.4 1160,801C1166.7,807.6 1173.3,815.2 1180,822C1183.3,825.4 1186.7,828.7 1190,832C1193.3,835.3 1196.7,838.5 1200,842C1203.3,845.5 1206.7,849 1210,853C1213.3,857 1216.7,861.8 1220,866C1223.3,870.2 1226.7,874 1230,878C1233,881.6 1236,885.1 1239,889C1242.7,893.7 1246.3,899.4 1250,904C1256.7,912.4 1263.3,919.7 1270,927C1276.7,934.3 1283.3,941.9 1290,948C1296.7,954.1 1303.3,958.7 1310,964C1316.7,969.3 1323.3,974.8 1330,980C1336.7,985.2 1343.3,990.4 1350,995C1356.7,999.6 1363.3,1005 1370,1008C1376.7,1011 1383.3,1012.7 1390,1015C1396.7,1017.3 1403.3,1020.4 1410,1022C1413.3,1022.8 1416.7,1023.6 1420,1024C1423.3,1024.4 1426.7,1024.5 1430,1025C1436.7,1026 1443.3,1032.2 1450,1034C1456.7,1035.8 1463.3,1036.3 1470,1038C1476.7,1039.7 1483.3,1042.5 1490,1045C1496.7,1047.5 1503.3,1050.5 1510,1053C1516.7,1055.5 1523.3,1057.4 1530,1060C1536.7,1062.6 1543.3,1066.6 1550,1069C1556.7,1071.4 1563.3,1072.4 1570,1075C1573.3,1076.3 1576.7,1078.6 1580,1080C1586.7,1082.8 1593.3,1084.5 1600,1087C1604.3,1088.6 1608.7,1090.2 1613,1092C1615.3,1093 1617.7,1094.1 1620,1095C1625.6,1097.2 1631.1,1099.2 1636.7,1101C1643.4,1103.2 1650,1105.1 1656.7,1107C1662.2,1108.6 1667.8,1110.5 1673.3,1111.7C1677.8,1112.6 1682.2,1112.8 1686.7,1114C1688.9,1114.6 1691.1,1116.6 1693.3,1117.7C1696.2,1119.2 1699.1,1120.8 1702,1121.7C1704.7,1122.6 1707.3,1122.8 1710,1123.7C1713.3,1124.8 1716.7,1127.5 1720,1128.3C1723.3,1129.1 1726.7,1129.3 1730,1130C1735.7,1131.2 1741.3,1133.2 1747,1134.7C1752.3,1136.1 1757.7,1137.1 1763,1138.7C1765.3,1139.4 1767.7,1140.7 1770,1141.3C1775.7,1142.8 1781.3,1143.4 1787,1144.7C1790.3,1145.5 1793.7,1146.1 1797,1147.3C1799.7,1148.2 1802.3,1150.6 1805,1151.3C1810,1152.7 1815,1153 1820,1154C1823.3,1154.7 1826.7,1155.3 1830,1156.3C1832.3,1157 1834.7,1158.4 1837,1159.3C1839.7,1160.4 1842.3,1161.5 1845,1162.3C1849.4,1163.6 1853.9,1164.9 1858.3,1165.3C1862.1,1165.7 1865.9,1165.6 1869.7,1166C1873.7,1166.4 1877.7,1168.8 1881.7,1170.7C1885,1172.3 1888.4,1175 1891.7,1176.7C1896.1,1179 1900.6,1181 1905,1182.7C1909.4,1184.4 1913.9,1186 1918.3,1187.3C1922.8,1188.6 1927.2,1189.2 1931.7,1190.7C1935,1191.8 1938.4,1193.4 1941.7,1195.3C1945,1197.2 1948.4,1201.3 1951.7,1202.7C1953.9,1203.6 1956.1,1204.2 1958.3,1204.7C1962.8,1205.8 1967.2,1205.4 1971.7,1207.3C1972.2,1207.5 1972.8,1209 1973.3,1209.3C1977.8,1211.9 1982.2,1212 1986.7,1213.3C1988.9,1214 1991.1,1214.9 1993.3,1215.3C1997.8,1216 2002.2,1216 2006.7,1216.7C2008.9,1217 2011.1,1217.8 2013.3,1218.3C2016.6,1219.1 2020,1220 2023.3,1220.7C2026.2,1221.3 2029.1,1222.2 2032,1222.3C2036.2,1222.4 2040.5,1222.4 2044.7,1222.5" stroke="#960000"/>
<path d="M366,577C380.7,585.3 395.3,594.2 410,602C423.3,609.1 436.7,615.3 450,622C462,628 474,634.1 486,640C500.7,647.2 515.3,654.7 530,661C540,665.3 550,668.1 560,673C570,677.9 580,686.5 590,692C603.3,699.3 616.7,704.4 630,711C643.3,717.6 656.7,725.2 670,732C683.3,738.8 696.7,745.6 710,752C720,756.8 730,762.7 740,766C750,769.3 760,771.3 770,773.8C780,776.3 790,779.7 800,781C813.3,782.7 826.7,783.5 840,784.4C856.7,785.5 873.3,785.8 890,787C903.3,788 916.7,790.1 930,792C943.3,793.9 956.7,796.1 970,799C983.3,801.9 996.7,806.3 1010,810C1023.3,813.7 1036.7,816.6 1050,821C1060,824.3 1070,828.9 1080,833C1086.7,835.8 1093.3,838.7 1100,841.5C1106.7,844.3 1113.3,846.9 1120,850C1126.7,853.1 1133.3,856.4 1140,860C1146.7,863.6 1153.3,867.8 1160,872C1166.7,876.2 1173.3,880.6 1180,885C1182,886.3 1184,887.9 1186,889C1187.3,889.8 1188.7,890.2 1190,891C1196.7,894.8 1203.3,900.8 1210,906C1216.7,911.2 1223.3,916.7 1230,922C1236.7,927.3 1243.3,933 1250,938C1256.7,943 1263.3,947.3 1270,952C1276.7,956.7 1283.3,961.3 1290,966C1296.7,970.7 1303.3,975.3 1310,980C1316.7,984.7 1323.3,990.3 1330,994C1336.7,997.7 1343.3,1000 1350,1003C1356.7,1006 1363.3,1009.4 1370,1012C1376.7,1014.6 1383.3,1016.8 1390,1019C1396.7,1021.2 1403.3,1023.2 1410,1025C1416.7,1026.8 1423.3,1028.2 1430,1030C1436.7,1031.8 1443.3,1034.2 1450,1036C1456.7,1037.8 1463.3,1039.2 1470,1041C1476.7,1042.8 1483.3,1045 1490,1047C1496.7,1049 1503.3,1050.8 1510,1053C1516.7,1055.2 1523.3,1057.7 1530,1060C1536.7,1062.3 1543.3,1064.7 1550,1067C1556.7,1069.3 1563.3,1071.6 1570,1074C1575.3,1075.9 1580.7,1078 1586,1080C1590.7,1081.7 1595.3,1083.5 1600,1085C1609,1087.9 1618,1090.7 1627,1093C1629.8,1093.7 1632.5,1094.3 1635.3,1095C1642.4,1096.9 1649.6,1099.7 1656.7,1101.7C1667.8,1104.9 1678.9,1107.3 1690,1110.3C1701.1,1113.3 1712.2,1116.4 1723.3,1119.7C1734.5,1123 1745.8,1126.7 1757,1130C1767,1133 1777,1135.6 1787,1138.7C1798,1142.1 1809,1146.2 1820,1150C1828.3,1152.9 1836.7,1155.6 1845,1158.7C1851.7,1161.2 1858.3,1163.9 1865,1166.7C1869.4,1168.6 1873.9,1170.9 1878.3,1172.7C1885,1175.4 1891.6,1177.4 1898.3,1180C1905,1182.6 1911.6,1186.3 1918.3,1188.7C1925,1191.1 1931.6,1192.4 1938.3,1194.7C1945,1197 1951.6,1200.6 1958.3,1202.7C1965,1204.8 1971.6,1206.3 1978.3,1208C1981.1,1208.7 1983.9,1209.3 1986.7,1210C1993.4,1211.6 2000,1213.4 2006.7,1214.7C2013.4,1216 2020,1217 2026.7,1218C2031.1,1218.7 2035.6,1219.3 2040,1220C2041.6,1220.2 2043.1,1220.5 2044.7,1220.7" stroke="#008200"/>
<path d="M366,530C380.7,538 395.3,545.6 410,554C423.3,561.6 436.7,570.3 450,578C463.3,585.7 476.7,591.7 490,600C501.3,607 512.7,616.6 524,624C532.7,629.7 541.3,634.5 550,640C563.3,648.4 576.7,656.9 590,666C603.3,675.1 616.7,685.7 630,695C643.3,704.3 656.7,712.8 670,722C683.3,731.2 696.7,740.9 710,750C720,756.8 730,763.9 740,770C750,776.1 760,782.1 770,787C780,791.9 790,796.2 800,800C810,803.8 820,807 830,810C840,813 850,815.9 860,818C870,820.1 880,821.2 890,823C900,824.8 910,826.6 920,829C930,831.4 940,834.8 950,838C960,841.2 970,844.4 980,848C990,851.6 1000,856 1010,860C1020,864 1030,867.7 1040,872C1050,876.3 1060,881 1070,886C1080,891 1090,896.2 1100,902C1110,907.8 1120,914.4 1130,921C1140,927.6 1150,934.5 1160,942C1170,949.5 1180,957.5 1190,966C1196.7,971.7 1203.3,978 1210,984C1216.7,990 1223.3,996 1230,1002C1236.7,1008 1243.3,1014 1250,1020C1256.7,1026 1263.3,1032.4 1270,1038C1276.7,1043.6 1283.3,1049.2 1290,1054C1296.7,1058.8 1303.3,1063 1310,1067C1316.7,1071 1323.3,1074.9 1330,1078C1336.7,1081.1 1343.3,1083.3 1350,1086C1356.7,1088.7 1363.3,1091.7 1370,1094C1376.7,1096.3 1383.3,1098.2 1390,1100C1396.7,1101.8 1403.3,1103.5 1410,1105C1416.7,1106.5 1423.3,1107.4 1430,1109C1436.7,1110.6 1443.3,1113.2 1450,1115C1456.7,1116.8 1463.3,1118.2 1470,1120C1476.7,1121.8 1483.3,1124.2 1490,1126C1496.7,1127.8 1503.3,1129.3 1510,1131C1516.7,1132.7 1523.3,1134.2 1530,1136C1536.7,1137.8 1543.3,1140.2 1550,1142C1556.7,1143.8 1563.3,1145.2 1570,1147C1576.7,1148.8 1583.3,1151.2 1590,1153C1601.1,1155.9 1612.2,1158.4 1623.3,1160.7C1634.4,1163 1645.6,1164.8 1656.7,1167C1667.8,1169.2 1678.9,1171.6 1690,1173.7C1701.1,1175.8 1712.2,1177.4 1723.3,1179.7C1733.2,1181.7 1743.1,1184.5 1753,1186.7C1764.3,1189.2 1775.7,1191.6 1787,1194C1798,1196.3 1809,1198.5 1820,1200.7C1828.3,1202.4 1836.7,1203.9 1845,1205.7C1856.1,1208.2 1867.2,1211.1 1878.3,1214C1889.4,1216.9 1900.6,1220.4 1911.7,1223.3C1922.8,1226.2 1933.9,1229.3 1945,1231.7C1956.1,1234.1 1967.2,1236.4 1978.3,1238C1981.1,1238.4 1983.9,1238.6 1986.7,1239C1993.4,1240 2000,1242.3 2006.7,1243.3C2013.4,1244.3 2020,1245.4 2026.7,1245.7C2032.7,1246 2038.7,1246.1 2044.7,1246.3" stroke="#009196"/>
<path d="M366,642C368.7,641.7 371.3,641 374,641C376.7,641 379.3,645 382,645C384.7,645 387.3,640.8 390,638C393,634.8 396,626 399,626C404,626 409,631 414,631C419.3,631 424.7,624.8 430,623C433,622 436,620.6 439,620.6C442,620.6 445,622.4 448,624C451.3,625.8 454.7,630.4 458,634C462.7,639.1 467.3,648.3 472,651C478,654.5 484,657.6 490,657.6C495.3,657.6 500.7,652 506,652C511.3,652 516.7,670.7 522,675C528,679.9 534,680.4 540,685C543.3,687.5 546.7,694.8 550,696C556.7,698.4 563.3,698.5 570,700C576.7,701.5 583.3,704.3 590,705C596.7,705.7 603.3,705.5 610,706.4C614.7,707 619.3,720.5 624,722C627.3,723.1 630.7,724 634,724C636.7,724 639.3,722.4 642,722.4C644.7,722.4 647.3,725.2 650,728C652.7,730.8 655.3,739.9 658,744C660.7,748.1 663.3,752.4 666,754C670.7,756.7 675.3,756.7 680,759C684.7,761.3 689.3,766.6 694,770C699.3,773.9 704.7,781 710,781C715.3,781 720.7,776.6 726,776.6C730.7,776.6 735.3,779.3 740,781C750,784.7 760,795 770,795C783.3,795 796.7,794.6 810,794C814.7,793.8 819.3,792.4 824,792.4C830.7,792.4 837.3,797 844,797C848.7,797 853.3,793.6 858,793.6C861.3,793.6 864.7,794.6 868,795.6C872.7,797 877.3,802 882,804C888,806.6 894,808.4 900,810C908.7,812.3 917.3,815.6 926,815.6C932.7,815.6 939.3,815 946,815C949.3,815 952.7,818.8 956,821C960.7,824 965.3,828.3 970,831C974,833.3 978,836.6 982,837C988,837.6 994,837.4 1000,838C1004.7,838.5 1009.3,842.3 1014,844C1019.3,845.9 1024.7,847.7 1030,849C1036.7,850.6 1043.3,851.2 1050,853C1056.7,854.8 1063.3,859 1070,862C1075.3,864.4 1080.7,865.8 1086,869C1090,871.4 1094,876.7 1098,880C1102,883.3 1106,888.7 1110,889C1119.3,889.7 1128.7,889.3 1138,890C1143.3,890.4 1148.7,898.8 1154,902C1159.3,905.2 1164.7,907.3 1170,910C1176.7,913.3 1183.3,915.6 1190,920C1196.7,924.4 1203.3,933.3 1210,940C1216.7,946.7 1223.3,954.1 1230,960C1233.3,962.9 1236.7,968 1240,968C1243.3,968 1246.7,968 1250,968C1254,968 1258,970 1262,972C1266,974 1270,980 1274,984C1279.3,989.3 1284.7,995.6 1290,1000C1294.7,1003.9 1299.3,1009.2 1304,1010C1307.3,1010.6 1310.7,1010.4 1314,1011C1319.3,1011.9 1324.7,1019.3 1330,1022C1336.7,1025.4 1343.3,1027.7 1350,1030C1356.7,1032.3 1363.3,1034 1370,1036C1376.7,1038 1383.3,1039.8 1390,1042C1396.7,1044.2 1403.3,1046.9 1410,1049C1414.7,1050.5 1419.3,1053 1424,1053C1427.3,1053 1430.7,1051.9 1434,1051C1436.7,1050.3 1439.3,1048 1442,1048C1446.7,1048 1451.3,1049 1456,1050C1460.7,1051 1465.3,1053.3 1470,1055C1476.7,1057.4 1483.3,1060.6 1490,1062C1496.7,1063.4 1503.3,1063.7 1510,1065C1516.7,1066.3 1523.3,1070.2 1530,1071C1534,1071.5 1538,1072 1542,1072C1544.7,1072 1547.3,1069.4 1550,1069.4C1553.3,1069.4 1556.7,1069.6 1560,1070C1563.3,1070.4 1566.7,1075.1 1570,1076C1576.7,1077.7 1583.3,1077.2 1590,1079C1593.3,1079.9 1596.7,1084 1600,1087C1602.7,1089.4 1605.3,1093.1 1608,1095C1613.1,1098.6 1618.2,1101 1623.3,1103C1630,1105.6 1636.6,1107.4 1643.3,1109C1650,1110.6 1656.6,1111.9 1663.3,1113C1667.8,1113.8 1672.2,1114.7 1676.7,1115C1681.1,1115.3 1685.6,1115.3 1690,1115.7C1692.2,1115.9 1694.5,1116.8 1696.7,1117.7C1700,1119 1703.4,1122 1706.7,1123.7C1710,1125.4 1713.4,1127.1 1716.7,1128.3C1721.1,1129.9 1725.6,1130.8 1730,1132.3C1736.3,1134.5 1742.7,1140 1749,1140C1758.3,1140 1767.7,1140 1777,1140C1782.3,1140 1787.7,1141.7 1793,1143.3C1797,1144.5 1801,1148.9 1805,1150C1814.3,1152.6 1823.7,1151.9 1833,1154.7C1835.3,1155.4 1837.7,1158.1 1840,1159.3C1844.3,1161.6 1848.7,1162.9 1853,1164.7C1856.6,1166.2 1860.1,1169 1863.7,1169C1870.8,1169 1877.9,1169 1885,1169C1888.3,1169 1891.7,1170.6 1895,1172C1898.3,1173.4 1901.7,1176.7 1905,1178.7C1909.4,1181.4 1913.9,1184 1918.3,1186C1918.9,1186.3 1919.4,1186.5 1920,1186.7C1923.8,1187.7 1927.5,1188.7 1931.3,1188.7C1933.5,1188.7 1935.8,1186.7 1938,1186.7C1940.7,1186.7 1943.3,1186.7 1946,1186.7C1947.3,1186.7 1948.7,1189.8 1950,1190C1956.7,1190.8 1963.3,1190.4 1970,1191C1972.4,1191.2 1974.9,1191.8 1977.3,1192.3C1979.5,1192.8 1981.8,1193.2 1984,1194C1986.7,1195 1989.3,1198.9 1992,1200C1995.1,1201.3 1998.2,1202.7 2001.3,1202.7C2005.3,1202.7 2009.3,1202.7 2013.3,1202.7C2016.6,1202.7 2020,1203.7 2023.3,1204.7C2025.5,1205.4 2027.8,1207.3 2030,1208.7C2032.4,1210.2 2034.9,1212.4 2037.3,1213.3C2039.8,1214.2 2042.2,1214.6 2044.7,1215.3" stroke="#28379B"/>
<path d="M366,103C372.9,109.9 379.8,116.9 386.7,123.7C394.7,131.6 402.7,137.9 410.7,147C416,153.1 421.4,161.9 426.7,168.3C433.4,176.2 440,182.6 446.7,189.7C453.4,196.8 460,203.7 466.7,211C473.4,218.3 480,226.4 486.7,233.7C493.4,241 500,247.9 506.7,255C513.4,262.1 520,269.3 526.7,276.3C532.5,282.4 538.2,288.2 544,294.3C559.3,310.5 574.7,326.9 590,344C594.7,349.2 599.3,354.6 604,360C609.3,366.2 614.7,372.8 620,379C630,390.6 640,401.5 650,413C663.3,428.4 676.7,444.8 690,460C703.3,475.2 716.7,491.1 730,504C743.3,516.9 756.7,528 770,538.4C783.3,548.8 796.7,559.2 810,567C823.3,574.8 836.7,580.9 850,587C863.3,593.1 876.7,598.9 890,604C903.3,609.1 916.7,612.5 930,618C943.3,623.5 956.7,630.7 970,638C983.3,645.3 996.7,653.4 1010,662C1023.3,670.6 1036.7,680.3 1050,690C1063.3,699.7 1076.7,708.1 1090,720C1096.3,725.7 1102.7,733.7 1109,740C1116,747 1123,753.2 1130,760C1136.7,766.5 1143.3,773.2 1150,780C1156.7,786.8 1163.3,793.7 1170,801C1176.7,808.3 1183.3,816 1190,824C1196.7,832 1203.3,840.6 1210,849C1215,855.3 1220,861.7 1225,868C1230.7,875.1 1236.3,881.8 1242,889C1251.3,900.9 1260.7,915.5 1270,926C1276.7,933.5 1283.3,940.1 1290,946C1296.7,951.9 1303.3,956.8 1310,962C1316.7,967.2 1323.3,972.4 1330,977C1336.7,981.6 1343.3,986.5 1350,990C1356.7,993.5 1363.3,996 1370,999C1376.7,1002 1383.3,1005 1390,1008C1396.7,1011 1403.3,1014.4 1410,1017C1416.7,1019.6 1423.3,1021.5 1430,1024C1436.7,1026.5 1443.3,1029.7 1450,1032C1456.7,1034.3 1463.3,1035.8 1470,1038C1476.7,1040.2 1483.3,1042.5 1490,1045C1496.7,1047.5 1503.3,1050.5 1510,1053C1516.7,1055.5 1523.3,1057.8 1530,1060C1536.7,1062.2 1543.3,1063.7 1550,1066C1556.7,1068.3 1563.3,1071.4 1570,1074C1575.3,1076.1 1580.7,1078.7 1586,1080C1590.7,1081.2 1595.3,1081.6 1600,1082.7C1609,1084.8 1618,1088.6 1627,1091C1632.4,1092.5 1637.9,1093.8 1643.3,1095C1647.8,1096 1652.2,1096.7 1656.7,1097.7C1667.8,1100.2 1678.9,1103.3 1690,1106.3C1701.1,1109.3 1712.2,1112.3 1723.3,1115.7C1737.9,1120.1 1752.4,1126.3 1767,1130C1773.7,1131.7 1780.3,1132.7 1787,1134.3C1798,1136.9 1809,1139.8 1820,1143.3C1828.3,1146 1836.7,1149.6 1845,1152.7C1852.8,1155.6 1860.5,1158.2 1868.3,1161.3C1873.9,1163.6 1879.4,1166.2 1885,1168.7C1891.7,1171.7 1898.3,1175.1 1905,1178C1911.7,1180.9 1918.3,1183.3 1925,1186C1931.7,1188.7 1938.3,1191.7 1945,1194C1951.7,1196.3 1958.3,1198.1 1965,1200C1972.2,1202.1 1979.5,1204.6 1986.7,1206C1993.4,1207.3 2000,1209 2006.7,1209C2013.4,1209 2020,1209 2026.7,1209C2028.9,1209 2031.1,1208.3 2033.3,1208C2035.5,1207.7 2037.8,1207 2040,1207C2041.6,1207 2043.1,1207 2044.7,1207" stroke="#B4640A"/>
<path d="M366,553C374,556 382,558.8 390,562C403.3,567.4 416.7,573.1 430,580C443.3,586.9 456.7,596.7 470,604C483.3,611.3 496.7,617.1 510,624C520,629.2 530,634.8 540,640C556.7,648.6 573.3,655.5 590,665C603.3,672.6 616.7,682.3 630,691C643.3,699.7 656.7,708.9 670,717C683.3,725.1 696.7,732.9 710,740C723.3,747.1 736.7,754.4 750,760C756.7,762.8 763.3,765.1 770,767.5C780,771.1 790,775.2 800,778C810,780.8 820,783.8 830,785C843.3,786.6 856.7,786.8 870,788C883.3,789.2 896.7,790.9 910,793C923.3,795.1 936.7,798.8 950,802C963.3,805.2 976.7,808 990,812C1000,815 1010,819.2 1020,823C1030,826.8 1040,830.6 1050,835C1060,839.4 1070,844.7 1080,850C1090,855.3 1100,860.9 1110,867C1116.7,871.1 1123.3,875.7 1130,880C1136.7,884.3 1143.3,888.4 1150,893C1156.7,897.6 1163.3,902.8 1170,908C1176.7,913.2 1183.3,918.4 1190,924C1196.7,929.6 1203.3,936 1210,942C1216.7,948 1223.3,954.2 1230,960C1236.7,965.8 1243.3,971.3 1250,977C1256.7,982.7 1263.3,988.5 1270,994C1276.7,999.5 1283.3,1005 1290,1010C1296.7,1015 1303.3,1019.7 1310,1024C1316.7,1028.3 1323.3,1032.2 1330,1036C1336.7,1039.8 1343.3,1043.7 1350,1047C1356.7,1050.3 1363.3,1053.4 1370,1056C1376.7,1058.6 1383.3,1060.8 1390,1063C1396.7,1065.2 1403.3,1067 1410,1069C1416.7,1071 1423.3,1072.8 1430,1075C1436.7,1077.2 1443.3,1079.8 1450,1082C1456.7,1084.2 1463.3,1086.2 1470,1088C1476.7,1089.8 1483.3,1091.3 1490,1093C1496.7,1094.7 1503.3,1096.5 1510,1098C1516.7,1099.5 1523.3,1100.5 1530,1102C1536.7,1103.5 1543.3,1105.3 1550,1107C1556.7,1108.7 1563.3,1110.2 1570,1112C1576.7,1113.8 1583.3,1116.2 1590,1118C1596.7,1119.8 1603.3,1121.1 1610,1123C1621,1126.1 1632,1130.5 1643,1133.7C1655.3,1137.3 1667.7,1140.3 1680,1143.5C1688.9,1145.8 1697.8,1148.1 1706.7,1150.3C1712.2,1151.7 1717.8,1153 1723.3,1154.3C1733.2,1156.6 1743.1,1158.7 1753,1161C1764.3,1163.7 1775.7,1166.5 1787,1169.3C1798,1172 1809,1174.1 1820,1177.3C1828.3,1179.7 1836.7,1183.4 1845,1186C1856.1,1189.5 1867.2,1192 1878.3,1195.3C1889.4,1198.6 1900.6,1202.7 1911.7,1206C1922.8,1209.3 1933.9,1212.3 1945,1215.3C1956.1,1218.3 1967.2,1221.5 1978.3,1224C1981.1,1224.6 1983.9,1225.1 1986.7,1225.7C1993.4,1227.1 2000,1229 2006.7,1230C2013.4,1231 2020,1231.8 2026.7,1232.3C2032.7,1232.7 2038.7,1233 2044.7,1233.3" stroke="#9000FF"/>
<path d="M366,314C374,319.3 382,324.6 390,330C398.7,335.9 407.3,342.5 416,348C424,353.1 432,357.1 440,362C448.7,367.3 457.3,373.1 466,379C474,384.4 482,390.5 490,396C510,409.8 530,420.9 550,436C570,451.1 590,469.4 610,488C630,506.6 650,529.1 670,548C683.3,560.6 696.7,573.2 710,584C730,600.3 750,614.3 770,628C783.3,637.2 796.7,646.9 810,654C823.3,661.1 836.7,666.5 850,672C863.3,677.5 876.7,682.6 890,687C903.3,691.4 916.7,694.6 930,699C943.3,703.4 956.7,708.5 970,714C983.3,719.5 996.7,724.9 1010,732C1023.3,739.1 1036.7,748.7 1050,758C1063.3,767.3 1076.7,782.1 1090,788C1093.3,789.5 1096.7,789.9 1100,791.5C1106.7,794.7 1113.3,803.9 1120,810C1126.7,816.1 1133.3,821.7 1140,828C1146.7,834.3 1153.3,841.3 1160,848C1166.7,854.7 1173.3,861.2 1180,868C1186.7,874.8 1193.3,881.2 1200,889C1203.3,892.9 1206.7,897.7 1210,902C1216.7,910.7 1223.3,919.7 1230,928C1236.7,936.3 1243.3,944 1250,952C1256.7,960 1263.3,968.7 1270,976C1276.7,983.3 1283.3,990.1 1290,996C1296.7,1001.9 1303.3,1007 1310,1012C1316.7,1017 1323.3,1021.7 1330,1026C1336.7,1030.3 1343.3,1034.4 1350,1038C1356.7,1041.6 1363.3,1045.3 1370,1048C1376.7,1050.7 1383.3,1052.7 1390,1055C1396.7,1057.3 1403.3,1059.8 1410,1062C1416.7,1064.2 1423.3,1066 1430,1068C1436.7,1070 1443.3,1072 1450,1074C1456.7,1076 1463.3,1077.9 1470,1080C1483.3,1084.1 1496.7,1089 1510,1093C1523.3,1097 1536.7,1099.8 1550,1104C1563.3,1108.2 1576.7,1114.9 1590,1119C1601.1,1122.4 1612.2,1124.6 1623.3,1127.7C1634.4,1130.8 1645.6,1134.4 1656.7,1137.7C1667.8,1141 1678.9,1144.6 1690,1147.7C1701.1,1150.8 1712.2,1153.9 1723.3,1156.3C1733.2,1158.5 1743.1,1159.8 1753,1162C1764.3,1164.5 1775.7,1167.8 1787,1170.7C1798,1173.5 1809,1176.4 1820,1179.3C1831,1182.2 1842,1184.7 1853,1188C1861.4,1190.5 1869.9,1193.7 1878.3,1196.5C1889.4,1200.2 1900.6,1204 1911.7,1207.3C1922.8,1210.6 1933.9,1213.4 1945,1216.3C1956.1,1219.2 1967.2,1221.8 1978.3,1224.7C1981.1,1225.4 1983.9,1226.2 1986.7,1227C1993.4,1229 2000,1232.3 2006.7,1233.7C2013.4,1235.1 2020,1236.2 2026.7,1236.7C2032.7,1237.2 2038.7,1237.4 2044.7,1237.7" stroke="#DC1478"/>
<path d="M366,542.4C374,545.6 382,548.8 390,552C400,556 410,558.5 420,564C426.7,567.6 433.3,575.7 440,580C450,586.5 460,591.1 470,596C483.3,602.5 496.7,607.4 510,614C523.3,620.6 536.7,629.1 550,636C552.7,637.4 555.3,638.6 558,640C572,647.1 586,654.1 600,662C616.7,671.4 633.3,681.8 650,693C663.3,701.9 676.7,712.9 690,722C703.3,731.1 716.7,739.8 730,748C743.3,756.2 756.7,765 770,771.5C776.7,774.7 783.3,777.4 790,780C800,784 810,788.4 820,791C830,793.6 840,795.3 850,797C860,798.7 870,800.3 880,801.6C890,802.9 900,803.6 910,805C920,806.4 930,808.9 940,811C953.3,813.8 966.7,816.2 980,820C990,822.8 1000,827.2 1010,831C1020,834.8 1030,838.7 1040,843C1050,847.3 1060,851.9 1070,857C1076.7,860.4 1083.3,863.9 1090,868C1096.7,872.1 1103.3,877.3 1110,882C1116.7,886.7 1123.3,891 1130,896C1136.7,901 1143.3,906.7 1150,912C1156.7,917.3 1163.3,922.2 1170,928C1176.7,933.8 1183.3,941 1190,947C1196.7,953 1203.3,957.9 1210,964C1216.7,970.1 1223.3,977.5 1230,984C1236.7,990.5 1243.3,996.8 1250,1003C1256.7,1009.2 1263.3,1015.2 1270,1021C1276.7,1026.8 1283.3,1032.7 1290,1038C1296.7,1043.3 1303.3,1048.6 1310,1053C1316.7,1057.4 1323.3,1061.6 1330,1065C1336.7,1068.4 1343.3,1071.6 1350,1074C1356.7,1076.4 1363.3,1077.8 1370,1080C1376.7,1082.2 1383.3,1084.7 1390,1087C1396.7,1089.3 1403.3,1092.1 1410,1094C1416.7,1095.9 1423.3,1097.3 1430,1099C1436.7,1100.7 1443.3,1102.2 1450,1104C1456.7,1105.8 1463.3,1108 1470,1110C1476.7,1112 1483.3,1114 1490,1116C1496.7,1118 1503.3,1120 1510,1122C1516.7,1124 1523.3,1126 1530,1128C1536.7,1130 1543.3,1132 1550,1134C1556.7,1136 1563.3,1138.3 1570,1140C1576.7,1141.7 1583.3,1142.6 1590,1144.3C1596.7,1146 1603.3,1148.9 1610,1150.3C1616.7,1151.7 1623.3,1152.5 1630,1153.7C1638.9,1155.4 1647.8,1157.5 1656.7,1159.3C1667.8,1161.5 1678.9,1163.4 1690,1165.7C1701.1,1168 1712.2,1170.6 1723.3,1173C1733.2,1175.1 1743.1,1177 1753,1179.3C1764.3,1181.9 1775.7,1185.2 1787,1188C1798,1190.7 1809,1192.7 1820,1195.7C1828.3,1198 1836.7,1201.4 1845,1203.7C1856.1,1206.8 1867.2,1209.2 1878.3,1212C1889.4,1214.8 1900.6,1217.9 1911.7,1220.7C1922.8,1223.5 1933.9,1226.3 1945,1228.7C1956.1,1231.1 1967.2,1232.6 1978.3,1235.3C1981.1,1236 1983.9,1237 1986.7,1237.7C1993.4,1239.3 2000,1240.7 2006.7,1241.7C2013.4,1242.7 2020,1243.6 2026.7,1244C2032.7,1244.3 2038.7,1244.5 2044.7,1244.7" stroke="#808080"/>
<path d="M366,471.5C380.7,478.3 395.3,485.7 410,492C416.7,494.8 423.3,496.9 430,500C436.7,503.1 443.3,507.3 450,511C456.7,514.7 463.3,517.8 470,522C476.7,526.2 483.3,533.2 490,537C496.7,540.8 503.3,542.6 510,546C523.3,552.8 536.7,561.8 550,570C558,574.9 566,580.3 574,585C579.3,588.1 584.7,590.7 590,594C603.3,602.3 616.7,613.5 630,623C638,628.7 646,634.4 654,640C666,648.4 678,656.4 690,665C703.3,674.6 716.7,686.1 730,695C743.3,703.9 756.7,711.8 770,719C776.7,722.6 783.3,725.9 790,729C803.3,735.2 816.7,742.1 830,746C843.3,749.9 856.7,751.8 870,755C883.3,758.2 896.7,761.7 910,765C923.3,768.3 936.7,771.2 950,775C963.3,778.8 976.7,783.2 990,788C1003.3,792.8 1016.7,798.2 1030,804C1040,808.3 1050,812.8 1060,818C1070,823.2 1080,829 1090,836C1093.3,838.3 1096.7,841.5 1100,844C1106.7,849 1113.3,853.7 1120,858C1126.7,862.3 1133.3,865.3 1140,870C1146.7,874.7 1153.3,881.9 1160,887C1163.3,889.5 1166.7,891.4 1170,894C1176.7,899.2 1183.3,905.7 1190,912C1196.7,918.3 1203.3,925.7 1210,932C1216.7,938.3 1223.3,943.7 1230,950C1236.7,956.3 1243.3,963.3 1250,970C1256.7,976.7 1263.3,983.3 1270,990C1276.7,996.7 1283.3,1003.7 1290,1010C1296.7,1016.3 1303.3,1022.8 1310,1028C1316.7,1033.2 1323.3,1037.7 1330,1042C1336.7,1046.3 1343.3,1050.4 1350,1054C1356.7,1057.6 1363.3,1061.3 1370,1064C1376.7,1066.7 1383.3,1069.1 1390,1071C1396.7,1072.9 1403.3,1074.2 1410,1076C1418.7,1078.4 1427.3,1081.2 1436,1084C1447.3,1087.7 1458.7,1092.5 1470,1096C1483.3,1100.1 1496.7,1103.5 1510,1107C1523.3,1110.5 1536.7,1113.8 1550,1117C1563.3,1120.2 1576.7,1123 1590,1126.3C1601.1,1129 1612.2,1131.9 1623.3,1135C1634.4,1138.1 1645.6,1141.8 1656.7,1145C1667.8,1148.2 1678.9,1151.3 1690,1154.3C1701.1,1157.3 1712.2,1160.4 1723.3,1163C1733.2,1165.3 1743.1,1167.1 1753,1169.3C1764.3,1171.8 1775.7,1174.5 1787,1177.3C1798,1180 1809,1183.3 1820,1186C1828.3,1188 1836.7,1189.6 1845,1191.7C1856.1,1194.5 1867.2,1198 1878.3,1201.3C1889.4,1204.6 1900.6,1208.2 1911.7,1211.3C1922.8,1214.4 1933.9,1217.2 1945,1220C1956.1,1222.8 1967.2,1224.9 1978.3,1228C1981.1,1228.8 1983.9,1230 1986.7,1230.7C1993.4,1232.4 2000,1233.5 2006.7,1234.7C2013.4,1235.9 2020,1237.5 2026.7,1238C2032.7,1238.5 2038.7,1238.7 2044.7,1239" stroke="#AA6464"/>
<path d="M366,471C380.7,478.3 395.3,485.7 410,493C423.3,499.7 436.7,505.5 450,513C463.3,520.5 476.7,532.6 490,539C496.7,542.2 503.3,543.9 510,547C523.3,553.3 536.7,562.7 550,571C563.3,579.3 576.7,588 590,597C603.3,606 616.7,615.9 630,625C638,630.5 646,635.5 654,641C666,649.3 678,658.2 690,667C703.3,676.8 716.7,687.7 730,697C743.3,706.3 756.7,714.7 770,723C776.7,727.1 783.3,731.8 790,735C803.3,741.3 816.7,745.6 830,750C843.3,754.4 856.7,758.4 870,762C883.3,765.6 896.7,768.1 910,772C923.3,775.9 936.7,781 950,786C963.3,791 976.7,796.5 990,802C1003.3,807.5 1016.7,812.9 1030,819C1040,823.6 1050,828.7 1060,834C1070,839.3 1080,844.7 1090,851C1100,857.3 1110,864.8 1120,872C1130,879.2 1140,886.8 1150,894C1156.7,898.8 1163.3,902.4 1170,908C1176.7,913.6 1183.3,922.7 1190,929C1196.7,935.3 1203.3,940.2 1210,946C1216.7,951.8 1223.3,958 1230,964C1236.7,970 1243.3,976 1250,982C1256.7,988 1263.3,994 1270,1000C1276.7,1006 1283.3,1012.4 1290,1018C1296.7,1023.6 1303.3,1029 1310,1034C1316.7,1039 1323.3,1044.1 1330,1048C1336.7,1051.9 1343.3,1055 1350,1058C1356.7,1061 1363.3,1063.7 1370,1066C1376.7,1068.3 1383.3,1070 1390,1072C1396.7,1074 1403.3,1076.2 1410,1078C1416.7,1079.8 1423.3,1081.3 1430,1083C1436.7,1084.7 1443.3,1086.2 1450,1088C1456.7,1089.8 1463.3,1092.2 1470,1094C1476.7,1095.8 1483.3,1097.3 1490,1099C1496.7,1100.7 1503.3,1102.3 1510,1104C1516.7,1105.7 1523.3,1107.3 1530,1109C1536.7,1110.7 1543.3,1112.3 1550,1114C1556.7,1115.7 1563.3,1117.3 1570,1119C1576.7,1120.7 1583.3,1122.5 1590,1124C1601.1,1126.6 1612.2,1128.6 1623.3,1131C1634.4,1133.4 1645.6,1135.8 1656.7,1138.3C1667.8,1140.7 1678.9,1143.3 1690,1145.7C1701.1,1148.1 1712.2,1150.4 1723.3,1153C1733.2,1155.3 1743.1,1158.1 1753,1160.3C1764.3,1162.8 1775.7,1164.8 1787,1167.3C1798,1169.8 1809,1172.7 1820,1175.3C1828.3,1177.3 1836.7,1178.9 1845,1181C1856.1,1183.7 1867.2,1187 1878.3,1190C1889.4,1193.1 1900.6,1196.3 1911.7,1199.3C1922.8,1202.3 1933.9,1205.1 1945,1208C1956.1,1210.9 1967.2,1214 1978.3,1216.7C1981.1,1217.4 1983.9,1218.1 1986.7,1218.7C1993.4,1220.1 2000,1221.5 2006.7,1222.3C2013.4,1223.1 2020,1223.8 2026.7,1224C2032.7,1224.2 2038.7,1224.2 2044.7,1224.3" stroke="#3C8C5A"/>
<path d="M366,401.6C370.7,402.4 375.3,402.9 380,404C386.7,405.6 393.3,409.3 400,413C406.7,416.7 413.3,422.8 420,427C430,433.3 440,438.7 450,444C463.3,451.1 476.7,457.3 490,464C503.3,470.7 516.7,476.7 530,484C543.3,491.3 556.7,499.4 570,508C583.3,516.6 596.7,525.8 610,536C623.3,546.2 636.7,558.7 650,570C663.3,581.3 676.7,593 690,604C703.3,615 716.7,624.5 730,636C738.7,643.5 747.3,652 756,660C760.7,664.3 765.3,669.4 770,673C776.7,678.2 783.3,682 790,686C796.7,690 803.3,694 810,697C823.3,703.1 836.7,708 850,712C863.3,716 876.7,719.1 890,722C900,724.2 910,725.4 920,728C930,730.6 940,736.1 950,739C956.7,741 963.3,741.9 970,744C976.7,746.1 983.3,749.8 990,753C996.7,756.2 1003.3,759.7 1010,763C1016.7,766.3 1023.3,769.2 1030,773C1036.7,776.8 1043.3,781.5 1050,786C1056.7,790.5 1063.3,795.3 1070,800C1080,807.1 1090,813.6 1100,821.5C1106.7,826.8 1113.3,833.3 1120,839C1126.7,844.7 1133.3,849.9 1140,856C1146.7,862.1 1153.3,869.3 1160,876C1164.3,880.3 1168.7,884.4 1173,889C1178.7,895 1184.3,902 1190,908C1196.7,915 1203.3,921 1210,928C1216.7,935 1223.3,942.7 1230,950C1236.7,957.3 1243.3,964.7 1250,972C1256.7,979.3 1263.3,986.8 1270,994C1276.7,1001.2 1283.3,1008.7 1290,1015C1296.7,1021.3 1303.3,1026.5 1310,1032C1316.7,1037.5 1323.3,1043.4 1330,1048C1336.7,1052.6 1343.3,1056.4 1350,1060C1356.7,1063.6 1363.3,1067 1370,1070C1376.7,1073 1383.3,1075.7 1390,1078C1403.3,1082.6 1416.7,1086.4 1430,1090C1443.3,1093.6 1456.7,1096.4 1470,1100C1483.3,1103.6 1496.7,1108.2 1510,1112C1523.3,1115.8 1536.7,1119.1 1550,1123C1563.3,1126.9 1576.7,1131.8 1590,1135.3C1601.1,1138.2 1612.2,1140.3 1623.3,1143C1634.4,1145.7 1645.6,1148.9 1656.7,1151.7C1667.8,1154.5 1678.9,1157 1690,1159.7C1701.1,1162.4 1712.2,1165.4 1723.3,1167.7C1733.2,1169.8 1743.1,1171.2 1753,1173.3C1764.3,1175.7 1775.7,1178.5 1787,1181.3C1798,1184 1809,1186.9 1820,1190C1828.3,1192.3 1836.7,1194.8 1845,1197.3C1856.1,1200.7 1867.2,1204.7 1878.3,1208C1889.4,1211.3 1900.6,1214.3 1911.7,1217.3C1922.8,1220.3 1933.9,1223.4 1945,1226C1956.1,1228.6 1967.2,1230.7 1978.3,1233.3C1981.1,1233.9 1983.9,1234.7 1986.7,1235.3C1993.4,1236.8 2000,1238.3 2006.7,1239.3C2013.4,1240.3 2020,1241.4 2026.7,1241.7C2032.7,1242 2038.7,1242.1 2044.7,1242.3" stroke="#0064AA"/>
</g>
<g class="tk" text-anchor="end">
<text transform="translate(323.6,1295.85) scale(1,1.05)">0.000</text>
<text transform="translate(323.6,1158.84) scale(1,1.05)">0.002</text>
<text transform="translate(323.6,1021.83) scale(1,1.05)">0.004</text>
<text transform="translate(323.6,884.817) scale(1,1.05)">0.006</text>
<text transform="translate(323.6,747.806) scale(1,1.05)">0.008</text>
<text transform="translate(323.6,610.794) scale(1,1.05)">0.010</text>
<text transform="translate(323.6,473.783) scale(1,1.05)">0.012</text>
<text transform="translate(323.6,336.772) scale(1,1.05)">0.014</text>
<text transform="translate(323.6,199.761) scale(1,1.05)">0.016</text>
<text transform="translate(323.6,62.75) scale(1,1.05)">0.018</text>
</g>
<g class="tk" text-anchor="middle">
<text transform="translate(363.75,1363.8) scale(1,1.05)">400</text>
<text transform="translate(784.288,1363.8) scale(1,1.05)">450</text>
<text transform="translate(1204.03,1363.8) scale(1,1.05)">500</text>
<text transform="translate(1623.76,1363.8) scale(1,1.05)">550</text>
<text transform="translate(2043.5,1363.8) scale(1,1.05)">600</text>
</g>
<text class="tt" text-anchor="middle" x="1205.7" y="1469">Wavelength (nm)</text>
<text class="tt" text-anchor="middle" transform="translate(81,695) rotate(-90)">Rrs(λ) (sr<tspan font-size="39.6" dy="-32.6">-1</tspan><tspan dy="32.6">)</tspan></text>
</svg>
</body></html>
